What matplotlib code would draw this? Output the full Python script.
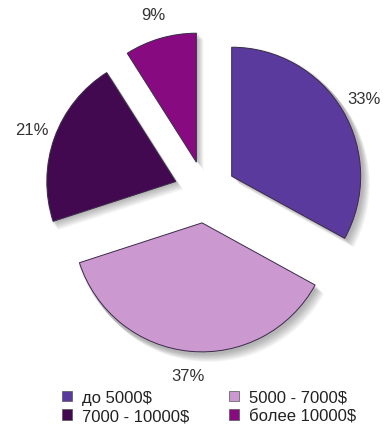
import matplotlib.pyplot as plt
from matplotlib.patches import Patch

shares = [33, 37, 21, 9]
labels = ["до 5000$", "5000 - 7000$", "7000 - 10000$", "более 10000$"]
colors = ["#5a3a9c", "#cc98d0", "#430950", "#880a80"]

W, H = 386, 427
cx, cy = 205, H - 193
R = 129
gap = 31  # pie() shifts wedges by explode in data units
expl = [gap] * len(shares)

plt.rcParams["font.family"] = ["Liberation Sans", "DejaVu Sans"]

fig = plt.figure(figsize=(W / 100, H / 100), dpi=100)
ax = fig.add_axes([0, 0, 1, 1])

# soft drop shadow: a stack of faint grey copies shifted down-right
for k in range(1, 10):
    ax.pie(shares, explode=expl, startangle=90, counterclock=False,
           radius=R + 2, center=(cx + k * 0.8, cy - k * 0.9),
           colors=["#000000"] * 4,
           wedgeprops=dict(alpha=0.035, linewidth=0), frame=True)

wedges, texts, autotexts = ax.pie(
    shares, explode=expl, startangle=90, counterclock=False,
    radius=R, center=(cx, cy), colors=colors,
    autopct="%d%%", pctdistance=1.19,
    wedgeprops=dict(edgecolor="#3a2a4a", linewidth=0.7),
    textprops=dict(fontsize=12, color="#333333"), frame=True)

ax.set_xlim(0, W)
ax.set_ylim(0, H)
ax.set_aspect("auto")
ax.axis("off")

# legend is filled column-first, so interleave to get rows of two
order = [0, 2, 1, 3]
handles = [Patch(facecolor=colors[i], edgecolor="#555555", linewidth=0.5) for i in order]
fig.legend(handles, [labels[i] for i in order], ncol=2, loc="upper left",
           bbox_to_anchor=(62 / W, 1 - 391 / H), frameon=False,
           borderpad=0, borderaxespad=0,
           fontsize=12, handlelength=0.6, handleheight=0.6,
           handletextpad=0.6, columnspacing=2.4, labelspacing=0.2,
           labelcolor="#222222")

fig.savefig("out.png", dpi=100)
